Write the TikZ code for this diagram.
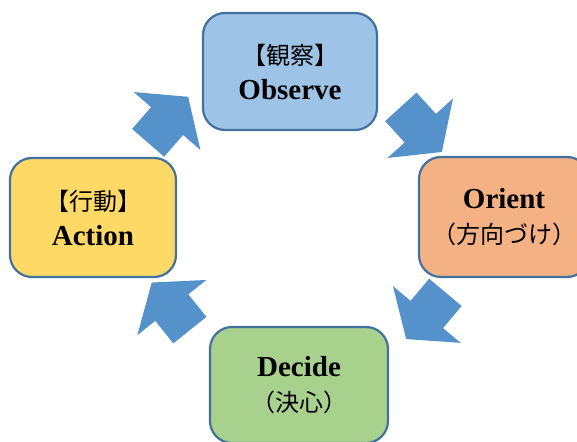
\documentclass[tikz,border=0pt]{standalone}
\usepackage{fontspec}
\setmainfont{Liberation Serif}
\newfontfamily\cjk{Noto Sans CJK JP}
\usetikzlibrary{shapes.arrows}
\definecolor{edgeblue}{HTML}{41719C}
\definecolor{arrowblue}{HTML}{5592CC}
\definecolor{obsfill}{HTML}{9DC3E6}
\definecolor{orifill}{HTML}{F4B183}
\definecolor{decfill}{HTML}{A9D18E}
\definecolor{actfill}{HTML}{FFD966}
\newcommand\jp[1]{{\cjk\mdseries\fontsize{24}{35}\selectfont #1}}
\begin{document}
\begin{tikzpicture}[x=1pt,y=1pt,
	stage/.style={draw=edgeblue,line width=2.2pt,rounded corners=22pt,align=center,
	font=\fontsize{29}{35}\selectfont\bfseries,inner sep=0pt},
	turn/.style={single arrow,fill=arrowblue,anchor=tail,inner xsep=0pt,inner ysep=21pt,
	minimum height=61pt,
	single arrow head extend=23pt,single arrow tip angle=108}]
\useasboundingbox (0,0) rectangle (577,441);
\clip (0,0) rectangle (577,441);
% the four stages
\node[stage,fill=obsfill,minimum width=174pt,minimum height=117pt] (observe) at (290,369.5) {\jp{【観察】}\\Observe};
\node[stage,fill=orifill,minimum width=170pt,minimum height=120pt] (orient) at (504,224) {Orient\\\jp{（方向づけ）}};
\node[stage,fill=decfill,minimum width=178pt,minimum height=116pt] (decide) at (299,56) {Decide\\\jp{（決心）}};
\node[stage,fill=actfill,minimum width=166pt,minimum height=119pt] (action) at (93,223.5) {\jp{【行動】}\\Action};
% the loop
\node[turn,rotate=-47.7] (obs-ori) at (400.7,334.3) {};
\node[turn,rotate=-130] (ori-dec) at (445.5,148.8) {};
\node[turn,rotate=128.7] (dec-act) at (190,110.7) {};
\node[turn,rotate=49] (act-obs) at (148,298) {};
\end{tikzpicture}
\end{document}
